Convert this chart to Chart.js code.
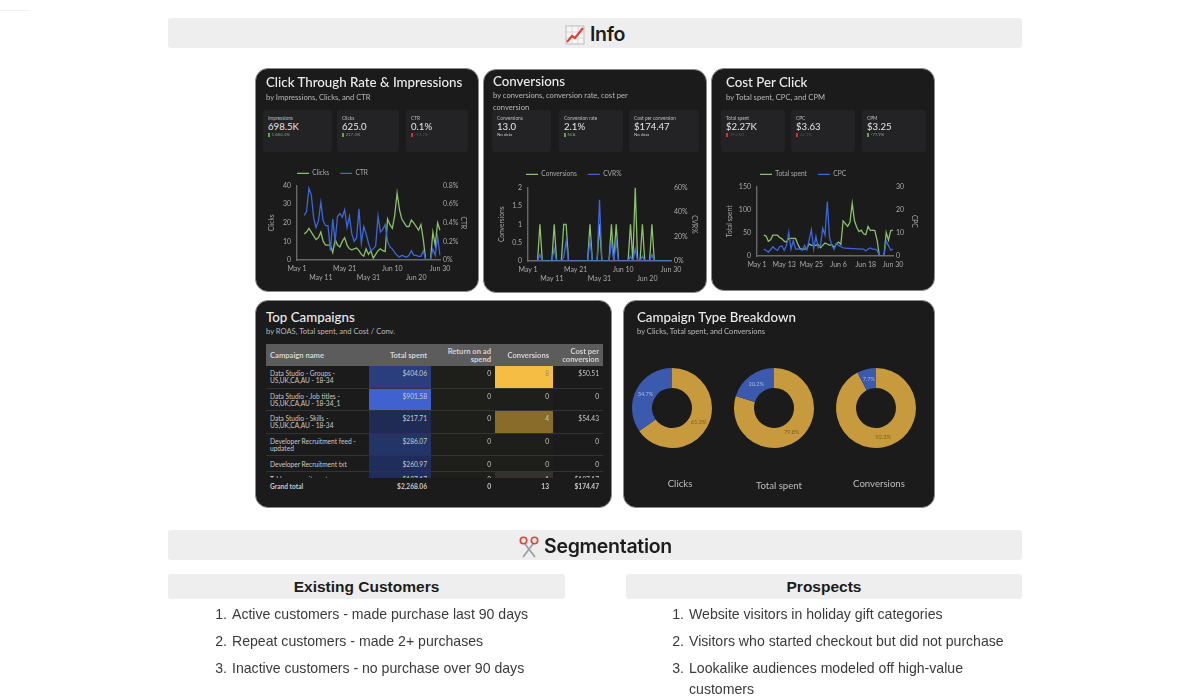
<!DOCTYPE html>
<html><head><meta charset="utf-8">
<script src="https://cdn.jsdelivr.net/npm/chart.js@4"></script>
<style>
html,body{margin:0;padding:0;background:#fff;width:1200px;height:700px;overflow:hidden}
*{box-sizing:border-box}
#page{position:absolute;left:0;top:0;width:1200px;height:700px;filter:blur(.3px)}
.abs,canvas{position:absolute}
.band{position:absolute;background:#eeeeee;border-radius:3px;text-align:center;color:#1c1c1c}
.h1{left:168px;width:854px;height:30px;font:600 19.5px/32px Inter,sans-serif;letter-spacing:-.3px}
.h2{height:24.5px;font:bold 15.5px/26px "Liberation Sans",sans-serif}
.li{position:absolute;font:14.1px/20px "Liberation Sans",sans-serif;color:#3a3a3a;white-space:nowrap}
.card{position:absolute;background:#1b1b1b;border-radius:13px;border:1px solid #8a8a8a;font-family:Lato,sans-serif}
.t{position:absolute;font:500 13.3px/16px Lato,sans-serif;color:#ececec;white-space:nowrap}
.s{position:absolute;font:7.6px/12px Lato,sans-serif;color:#b8b8b8;white-space:nowrap}
.tile{position:absolute;background:#232325;border-radius:3px;top:110px;height:42px;font-family:Lato,sans-serif}
.tile b{position:absolute;left:5px;top:5px;font:normal 4.8px/6px Lato,sans-serif;color:#bdbdbd;white-space:nowrap}
.tile i{position:absolute;left:5px;top:10px;font:normal 9.6px/14px Lato,sans-serif;color:#e8e8e8;white-space:nowrap}
.tile u{position:absolute;left:5px;top:22px;font:normal 4.4px/6px Lato,sans-serif;color:#8a8a8a;text-decoration:none;white-space:nowrap}
.tile u em{display:inline-block;width:1.5px;height:4px;margin-right:2px;vertical-align:-.5px}
table{border-collapse:collapse;table-layout:fixed;font:6.6px/7px Lato,sans-serif;color:#c9c9c9;position:absolute}
td,th{padding:0 4px;overflow:hidden;vertical-align:top;text-align:right}
td:first-child,th:first-child{text-align:left}
th{background:#5c5c5c;font:700 7.6px/8px Lato,sans-serif;vertical-align:middle;color:#d4d4d4}
tr.r td{border-bottom:1px solid #333}
.dl{position:absolute;font:9.6px/12px Lato,sans-serif;color:#bdbdbd;text-align:center;width:90px}
</style></head><body>
<div id="page">
<div class="abs" style="left:0;top:10px;width:30px;height:1px;background:#f0f0f0"></div>

<div class="band h1" style="top:18px"><svg width="20" height="20" viewBox="0 0 20 20" style="vertical-align:-4px;margin-right:5px"><rect x="1" y="1" width="18" height="18" fill="#f7f7f7" stroke="#bbb"/><path d="M1 7h18M1 13h18M7 1v18M13 1v18" stroke="#ccc" stroke-width=".7"/><path d="M2 17l5-6 3 2 8-10" fill="none" stroke="#d8453a" stroke-width="2.2"/></svg>Info</div>

<div class="card" style="left:255px;top:68px;width:224px;height:224px"></div>
<div class="card" style="left:483px;top:69px;width:224px;height:224px"></div>
<div class="card" style="left:711px;top:68px;width:224px;height:223px"></div>
<div class="card" style="left:255px;top:300px;width:357px;height:208px"></div>
<div class="card" style="left:623px;top:300px;width:312px;height:208px"></div>

<div class="t" style="left:266px;top:74px">Click Through Rate &amp; Impressions</div>
<div class="s" style="left:266px;top:91px">by Impressions, Clicks, and CTR</div>
<div class="t" style="left:493px;top:73px">Conversions</div>
<div class="s" style="left:493px;top:89px">by conversions, conversion rate, cost per</div>
<div class="s" style="left:493px;top:101px">conversion</div>
<div class="t" style="left:726px;top:74px">Cost Per Click</div>
<div class="s" style="left:726px;top:91px">by Total spent, CPC, and CPM</div>
<div class="t" style="left:266px;top:309px">Top Campaigns</div>
<div class="s" style="left:266px;top:325px">by ROAS, Total spent, and Cost / Conv.</div>
<div class="t" style="left:637px;top:309px">Campaign Type Breakdown</div>
<div class="s" style="left:637px;top:325px">by Clicks, Total spent, and Conversions</div>

<div id="tiles"></div>

<div id="tbl"></div>

<canvas id="c1" width="199" height="127" style="left:268px;top:158px"></canvas>
<canvas id="c2" width="200" height="128" style="left:498px;top:160px"></canvas>
<canvas id="c3" width="192" height="127" style="left:726px;top:159px"></canvas>
<canvas id="d1" width="100" height="100" style="left:622px;top:358px"></canvas>
<canvas id="d2" width="100" height="100" style="left:724px;top:358px"></canvas>
<canvas id="d3" width="100" height="100" style="left:826px;top:358px"></canvas>
<div class="dl" style="left:635px;top:478px">Clicks</div>
<div class="dl" style="left:734px;top:480px">Total spent</div>
<div class="dl" style="left:834px;top:478px">Conversions</div>

<div class="band h1" style="top:530px"><svg width="22" height="22" viewBox="0 0 22 22" style="vertical-align:-5px;margin-right:4px"><path d="M7 8l10 13M15 8L5 21" stroke="#9aa0a6" stroke-width="1.8" fill="none"/><circle cx="5.5" cy="4.5" r="3.2" fill="none" stroke="#d8453a" stroke-width="1.6"/><circle cx="16.5" cy="4.5" r="3.2" fill="none" stroke="#d8453a" stroke-width="1.6"/></svg>Segmentation</div>
<div class="band h2" style="left:168px;top:574px;width:397px">Existing Customers</div>
<div class="band h2" style="left:626px;top:574px;width:396px">Prospects</div>
<div id="lists"></div>
</div>

<script>
const dayLabels = ['May 1','May 2','May 3','May 4','May 5','May 6','May 7','May 8','May 9','May 10','May 11','May 12','May 13','May 14','May 15','May 16','May 17','May 18','May 19','May 20','May 21','May 22','May 23','May 24','May 25','May 26','May 27','May 28','May 29','May 30','May 31','Jun 1','Jun 2','Jun 3','Jun 4','Jun 5','Jun 6','Jun 7','Jun 8','Jun 9','Jun 10','Jun 11','Jun 12','Jun 13','Jun 14','Jun 15','Jun 16','Jun 17','Jun 18','Jun 19','Jun 20','Jun 21','Jun 22','Jun 23','Jun 24','Jun 25','Jun 26','Jun 27','Jun 28','Jun 29','Jun 30'];
const clicks = [null,null,null,14,15,17,15,13,11,12,15,10,8,8,8,4,11,8,7,10,12,8,6,5.5,6,6.5,5,3,2,6,3,5,1,3,5,6,5,4.5,22,19,17,24,36,27,22,20,18,18,21.5,20,18,16,19,11,0,0,0,15,8,20,16];
const ctr = [null,null,null,.48,.52,.77,.70,.45,.35,.42,.62,.42,.37,.37,.10,.44,.20,.47,.50,.46,.54,.35,.47,.28,.20,.24,.55,.18,.36,.28,.18,.10,.12,.15,.47,.30,.33,.38,.20,.14,.12,.08,.05,.03,.05,.04,.03,.05,.10,.05,.05,.04,.04,.10,0,0,0,.12,.05,.25,.05];
const conversions = [null,null,null,0,0,1,0,0,0,0,0,1,0,0,0,1,1,0,0,0,0,0,0,0,0,0,1,0,0,0,1,0,0,0,0,1,0,1,0,0,0,0,0,1,0,2,0,0,1,0,0,0,1,0,0,0,0,0,0,0,0];
const cvr = [null,null,null,0,0,5,0,0,0,0,0,10,0,0,0,3,16.5,0,0,0,0,0,0,0,0,0,17,0,0,0,50,0,0,0,0,16,0,16,0,0,0,0,0,4,0,10,0,0,4,0,0,0,5,0,0,0,0,0,0,0,0];
const spent = [null,null,null,45,43,32,35,45,45,45,40,37,32,30,38,38,38,38,26,16,15,15,16,26,23,23,23,25,18,23,28,26,23,25,18,26,30,25,76,70,64,73,114,76,62,53,56,48,46,64,55,56,55,34,0,0,0,51,34,55,56];
const cpc = [null,null,null,3,2.4,1.7,2.7,4,3,2.4,4,4.4,2.4,4.6,10.3,3,6.7,3,3,3,2.4,4.6,2.7,7,11.3,3,8.5,3.5,4.6,12,9,23.5,8,4.6,2.8,5.5,4.6,4,3.5,3.4,3.3,3.3,3.2,3.2,3.1,3.1,3,3,2.2,3,3.5,3,3,2.5,0,0,0,6.5,4.5,2.5,3];

const doughnutShareClicks = [65.3, 34.7];
const doughnutShareSpent = [79.8, 20.2];
const doughnutShareConv = [92.3, 7.7];

const tableHead = ['Campaign name','Total spent','Return on ad spend','Conversions','Cost per conversion'];
const campaignNames = ['Data Studio - Groups - US,UK,CA,AU - 18-34','Data Studio - Job titles - US,UK,CA,AU - 18-34_1','Data Studio - Skills - US,UK,CA,AU - 18-34','Developer Recruitment feed - updated','Developer Recruitment txt','Tableau recruitment'];
const campaignSpent = ['$404.06','$901.58','$217.71','$286.07','$260.97','$187.17'];
const campaignRoas = ['0','0','0','0','0','0'];
const campaignConv = ['8','0','4','0','0','1'];
const campaignCost = ['$50.51','0','$54.43','0','0','$187.17'];
const grandTotal = ['Grand total','$2,268.06','0','13','$174.47'];

const spentShade = ['#2a3d7c','#3f62d0','#1f2b55','#233468','#1f2d5d','#1f2d5d'];
const convShade = ['#f6bd45','#1e1e1a','#8a6c2a','#1e1e1a','#1e1e1a','#33322e'];
const convInk = ['#a08c58','#c9c9c9','#c9c9c9','#c9c9c9','#c9c9c9','#c9c9c9'];
const rowHeights = [22.4,22.4,22.4,22,16.4,12];
const rowTopPad = [4,4,4,4,5,4];

const tileData = [
 [263,69,'Impressions','698.5K','1,680.3%','#5fa84a','#8a9a84'],
 [337,62,'Clicks','625.0','217.3%','#5fa84a','#8a9a84'],
 [406,62,'CTR','0.1%','-92.2%','#d8302c','#4e4e4e'],
 [492,59,'Conversions','13.0','No data','',''],
 [559,64,'Conversion rate','2.1%','N/A','#5fa84a','#8a9a84'],
 [629,70,'Cost per conversion','$174.47','No data','',''],
 [721,64,'Total spent','$2.27K','293.8%','#d8302c','#4e4e4e'],
 [791,64,'CPC','$3.63','24.1%','#d8302c','#4e4e4e'],
 [862,64,'CPM','$3.25','-77.9%','#5fa84a','#8a9a84']
];
document.getElementById('tiles').innerHTML = tileData.map(t =>
 `<div class="tile" style="left:${t[0]}px;width:${t[1]}px"><b>${t[2]}</b><i>${t[3]}</i><u style="color:${t[6]||'#c8c8c8'}">${t[5]?`<em style="background:${t[5]}"></em>`:''}${t[4]}</u></div>`).join('');

const colW = [103,62,64,58,50];
const cg = '<colgroup>'+colW.map(w=>`<col style="width:${w}px">`).join('')+'</colgroup>';
let rows = `<tr style="height:22px">${tableHead.map(h=>`<th>${h}</th>`).join('')}</tr>`;
campaignNames.forEach((n,i)=>{
 const s=`height:${rowHeights[i]}px;padding-top:${rowTopPad[i]}px`;
 rows += `<tr class="r"><td style="${s}">${n}</td><td style="${s};background:${spentShade[i]}">${campaignSpent[i]}</td><td style="${s};background:#1e1e1a">${campaignRoas[i]}</td><td style="${s};background:${convShade[i]};color:${convInk[i]}">${campaignConv[i]}</td><td style="${s}">${campaignCost[i]}</td></tr>`;
});
document.getElementById('tbl').innerHTML =
 `<div class="abs" style="left:266px;top:344px;width:337px;height:134px;overflow:hidden"><table style="width:337px;left:0;top:0">${cg}${rows}</table></div>`+
 `<table style="width:337px;left:266px;top:483px;font-weight:700">${cg}<tr>${grandTotal.map(g=>`<td>${g}</td>`).join('')}</tr></table>`;

const existingList = ['Active customers - made purchase last 90 days','Repeat customers - made 2+ purchases','Inactive customers - no purchase over 90 days'];
const prospectList = ['Website visitors in holiday gift categories','Visitors who started checkout but did not purchase','Lookalike audiences modeled off high-value','customers'];
let lh='';
const yPos=[604,631,658,679];
existingList.forEach((t,i)=>{lh+=`<div class="li" style="left:213px;width:14px;text-align:right;top:${yPos[i]}px">${i+1}.</div><div class="li" style="left:232px;top:${yPos[i]}px">${t}</div>`;});
prospectList.forEach((t,i)=>{if(i<3)lh+=`<div class="li" style="left:670px;width:14px;text-align:right;top:${yPos[i]}px">${i+1}.</div>`;lh+=`<div class="li" style="left:689px;top:${yPos[i]}px">${t}</div>`;});
document.getElementById('lists').innerHTML=lh;

Chart.defaults.font.family='Lato';
Chart.defaults.animation=false;
const GREEN='#8bbf6c', BLUE='#3d66d6', AX='#686868', TXT='#a9a9a9';

const legendMove={id:'legendMove',afterLayout(ch,a,o){ if(ch.legend){ const w=ch.legend.width; ch.legend.left=o.x; ch.legend.right=o.x+w; ch.legend.top=o.y; } }};

function lineChart(id,cfg){
 new Chart(document.getElementById(id),{type:'line',plugins:[legendMove],
  data:{labels:dayLabels,datasets:[
   {label:cfg.a.label,data:cfg.a.data,borderColor:GREEN,backgroundColor:GREEN,borderWidth:1.3,pointRadius:0,tension:0,order:1,yAxisID:'y'},
   {label:cfg.b.label,data:cfg.b.data,borderColor:BLUE,backgroundColor:BLUE,borderWidth:1.3,pointRadius:0,tension:0,order:0,yAxisID:'y1'}]},
  options:{responsive:false,animation:false,layout:{padding:0},
   plugins:{tooltip:{enabled:false},legendMove:{x:cfg.legX,y:cfg.legY},
    legend:{position:'top',align:'start',labels:{sort:(p,q)=>p.datasetIndex-q.datasetIndex,usePointStyle:true,pointStyle:'line',pointStyleWidth:12,color:'#a9a9a9',padding:11,font:{size:6.6}}}},
   scales:{
    x:{grid:{display:false,drawTicks:false},border:{display:true,color:AX,width:1.4},
     afterFit(s){s.height=cfg.bottom;},
     ticks:{autoSkip:false,maxRotation:0,minRotation:0,padding:4,color:TXT,font:{size:7,lineHeight:1.3},
      callback(v,i){ if(i%cfg.step) return null; const l=dayLabels[i]; return cfg.stagger&&(i/cfg.step)%2 ? ['',l] : l; }}},
    y:{position:'left',min:0,max:cfg.a.max,grid:{display:false,drawTicks:false},border:{display:true,color:AX,width:1.4},
     afterFit(s){s.width=cfg.left;},
     title:{display:true,text:cfg.a.label,color:TXT,font:{size:6.6},padding:0},
     ticks:{stepSize:cfg.a.stepV,padding:6,color:TXT,font:{size:7},callback(v){return String(v);}}},
    y1:{position:'right',min:0,max:cfg.b.max,grid:{display:false,drawTicks:false},border:{display:false},
     afterFit(s){s.width=cfg.right;},
     title:{display:true,text:cfg.b.label,color:TXT,font:{size:6.6},padding:0},
     ticks:{stepSize:cfg.b.stepV,padding:3,color:TXT,font:{size:7},callback(v){return v+(cfg.b.suffix||'');}}}
   }}});
}
lineChart('c1',{a:{label:'Clicks',data:clicks,max:40,stepV:10},b:{label:'CTR',data:ctr,max:.8,stepV:.2,suffix:'%'},
 left:29,right:27,bottom:25,step:10,stagger:true,legX:18,legY:1});
lineChart('c2',{a:{label:'Conversions',data:conversions,max:2,stepV:.5},b:{label:'CVR%',data:cvr,max:60,stepV:20,suffix:'%'},
 left:30,right:27,bottom:27,step:10,stagger:true,legX:17,legY:0});
lineChart('c3',{a:{label:'Total spent',data:spent,max:150,stepV:50},b:{label:'CPC',data:cpc,max:30,stepV:10},
 left:31,right:25,bottom:30,step:12,stagger:false,legX:23,legY:1});

const pctLabels={id:'pctLabels',afterDatasetsDraw(ch){
 const {ctx}=ch, meta=ch.getDatasetMeta(0), d=ch.data.datasets[0].data;
 ctx.save();ctx.font='5.6px Lato';ctx.textAlign='center';ctx.textBaseline='middle';
 meta.data.forEach((a,i)=>{const p=a.tooltipPosition();ctx.fillStyle=i?'#a9b8e0':'#7d6328';ctx.fillText(d[i]+'%',p.x,p.y);});
 ctx.restore();}};
[['d1',doughnutShareClicks],['d2',doughnutShareSpent],['d3',doughnutShareConv]].forEach(([id,vals])=>{
 new Chart(document.getElementById(id),{type:'doughnut',plugins:[pctLabels],
  data:{labels:['Type A','Type B'],datasets:[{data:vals,backgroundColor:['#c79a3d','#3b59ad'],borderWidth:0}]},
  options:{responsive:false,animation:false,radius:40,cutout:'50%',layout:{padding:0},plugins:{legend:{display:false},tooltip:{enabled:false}}}});
});
</script>
</body></html>
